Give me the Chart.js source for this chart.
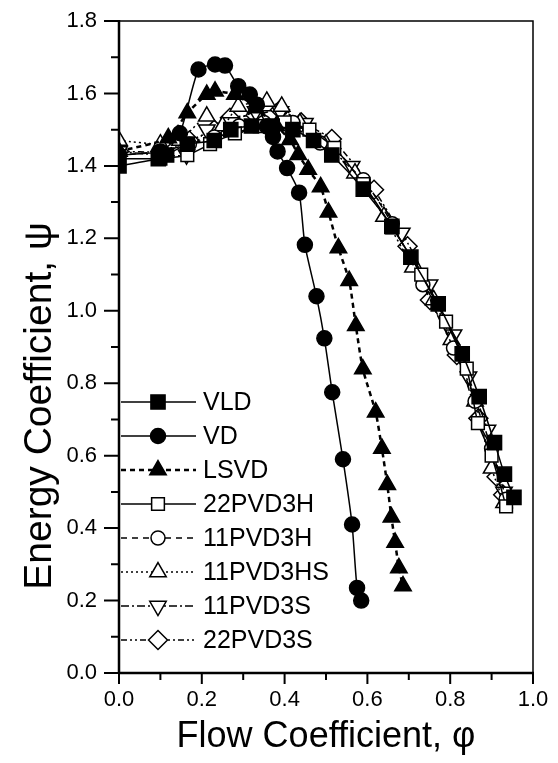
<!DOCTYPE html>
<html><head><meta charset="utf-8">
<script src="https://cdn.jsdelivr.net/npm/chart.js@4/dist/chart.umd.min.js"></script>
<style>html,body{margin:0;padding:0;background:#fff}#c{display:block}</style>
</head><body>
<canvas id="c" width="558" height="763"></canvas>
<script>
// ---- data ----
const seriesNames = ["VLD","VD","LSVD","22PVD3H","11PVD3H","11PVD3HS","11PVD3S","22PVD3S"];
const phiVLD = [0,0.095,0.115,0.165,0.23,0.27,0.32,0.37,0.42,0.47,0.514,0.59,0.659,0.705,0.771,0.829,0.87,0.907,0.931,0.954];
const psiVLD = [1.40,1.42,1.43,1.46,1.47,1.50,1.51,1.51,1.50,1.47,1.43,1.336,1.233,1.148,1.019,0.881,0.763,0.636,0.549,0.485];
const phiVD = [0,0.10,0.147,0.192,0.232,0.256,0.288,0.316,0.333,0.357,0.372,0.383,0.406,0.435,0.449,0.477,0.496,0.515,0.541,0.563,0.575,0.585];
const psiVD = [1.43,1.44,1.49,1.666,1.68,1.677,1.62,1.597,1.569,1.509,1.48,1.44,1.394,1.326,1.182,1.04,0.924,0.775,0.59,0.41,0.235,0.20];
const phiLSVD = [0,0.119,0.165,0.212,0.232,0.28,0.33,0.38,0.413,0.433,0.457,0.487,0.506,0.530,0.556,0.572,0.589,0.62,0.635,0.648,0.658,0.667,0.676,0.686];
const psiLSVD = [1.44,1.477,1.546,1.597,1.606,1.597,1.56,1.51,1.472,1.431,1.39,1.342,1.272,1.173,1.083,0.959,0.839,0.72,0.62,0.52,0.43,0.36,0.29,0.24];
const phi22H = [0,0.10,0.165,0.22,0.28,0.34,0.40,0.46,0.52,0.59,0.66,0.73,0.79,0.84,0.867,0.90,0.935];
const psi22H = [1.42,1.42,1.43,1.46,1.49,1.51,1.52,1.50,1.45,1.35,1.23,1.10,0.97,0.84,0.69,0.60,0.46];
const phi11H = [0,0.10,0.17,0.23,0.29,0.35,0.42,0.486,0.59,0.66,0.734,0.808,0.86,0.90,0.935];
const psi11H = [1.43,1.44,1.46,1.48,1.51,1.52,1.52,1.463,1.362,1.24,1.072,0.897,0.75,0.62,0.48];
const phi11HS = [0,0.10,0.147,0.212,0.25,0.288,0.357,0.393,0.437,0.50,0.57,0.64,0.71,0.76,0.803,0.86,0.90,0.93];
const psi11HS = [1.47,1.46,1.47,1.537,1.51,1.564,1.578,1.564,1.518,1.46,1.38,1.26,1.12,1.03,0.92,0.75,0.565,0.47];
const phi11S = [0,0.10,0.163,0.212,0.27,0.33,0.39,0.449,0.562,0.683,0.75,0.808,0.844,0.89,0.93];
const psi11S = [1.44,1.43,1.431,1.50,1.52,1.55,1.55,1.518,1.399,1.215,1.072,0.934,0.818,0.671,0.50];
const phi22S = [0,0.10,0.17,0.23,0.268,0.33,0.389,0.44,0.514,0.616,0.697,0.751,0.816,0.868,0.912,0.928];
const psi22S = [1.44,1.44,1.47,1.50,1.533,1.54,1.555,1.52,1.474,1.334,1.178,1.03,0.878,0.703,0.542,0.492];
const xTickLabels = ["0.0","0.2","0.4","0.6","0.8","1.0"];
const yTickLabels = ["0.0","0.2","0.4","0.6","0.8","1.0","1.2","1.4","1.6","1.8"];
const xTitle = "Flow Coefficient, \u03C6";
const yTitle = "Energy Coefficient, \u03C8";

const pts = (xs, ys) => xs.map((x, i) => ({x: x, y: ys[i]}));
const FONT = "'Liberation Sans', Arial, sans-serif";

const styles = [
  {pointStyle:'rect', radius:10, fill:true, dash:[], rot:0, lw:1.5},
  {pointStyle:'circle', radius:7.5, fill:true, dash:[], rot:0, lw:1.5},
  {pointStyle:'triangle', radius:9.5, fill:true, dash:[5,4], rot:0, lw:2.5},
  {pointStyle:'rect', radius:9, fill:false, dash:[], rot:0, lw:1.5},
  {pointStyle:'circle', radius:7, fill:false, dash:[6,5], rot:0, lw:1.5},
  {pointStyle:'triangle', radius:9.5, fill:false, dash:[2,3], rot:0, lw:1.5},
  {pointStyle:'triangle', radius:9.5, fill:false, dash:[8,3,2,3], rot:180, lw:1.5},
  {pointStyle:'rectRot', radius:9.5, fill:false, dash:[6,3,2,3,2,3], rot:0, lw:1.5}
];
const dataArrays = [
  pts(phiVLD, psiVLD), pts(phiVD, psiVD), pts(phiLSVD, psiLSVD), pts(phi22H, psi22H),
  pts(phi11H, psi11H), pts(phi11HS, psi11HS), pts(phi11S, psi11S), pts(phi22S, psi22S)
];

const datasets = seriesNames.map((name, i) => ({
  label: name,
  data: dataArrays[i],
  borderColor: '#000',
  backgroundColor: styles[i].fill ? '#000' : '#fff',
  pointBackgroundColor: styles[i].fill ? '#000' : '#fff',
  pointBorderColor: '#000',
  pointBorderWidth: 1.5,
  pointStyle: styles[i].pointStyle,
  pointRotation: styles[i].rot,
  pointRadius: styles[i].radius,
  borderWidth: styles[i].lw,
  borderDash: styles[i].dash,
  tension: 0.2,
  showLine: true,
  order: styles[i].fill ? 0 : 1
}));

const L = 119, R = 533, T = 21, B = 673;

const framePlugin = {
  id: 'frame',
  beforeDraw(chart) {
    const ctx = chart.ctx;
    ctx.save(); ctx.fillStyle = '#fff'; ctx.fillRect(0, 0, chart.width, chart.height); ctx.restore();
  },
  afterDraw(chart) {
    const ctx = chart.ctx, a = chart.chartArea;
    const xs = chart.scales.x, ys = chart.scales.y;
    ctx.save();
    ctx.strokeStyle = '#000';
    ctx.lineWidth = 1.5;
    ctx.beginPath();
    ctx.moveTo(a.left, a.top); ctx.lineTo(a.right, a.top); ctx.lineTo(a.right, a.bottom);
    ctx.stroke();
    ctx.lineWidth = 2.5;
    ctx.beginPath();
    ctx.moveTo(a.left, a.top - 1); ctx.lineTo(a.left, a.bottom + 1);
    ctx.moveTo(a.left - 1, a.bottom); ctx.lineTo(a.right + 1, a.bottom);
    ctx.stroke();
    ctx.lineWidth = 2;
    ctx.beginPath();
    for (let k = 0; k <= 10; k++) {
      const px = xs.getPixelForValue(k / 10);
      ctx.moveTo(px, a.bottom); ctx.lineTo(px, a.bottom + (k % 2 === 0 ? 11 : 7));
    }
    for (let k = 0; k <= 18; k++) {
      const py = ys.getPixelForValue(k / 10);
      ctx.moveTo(a.left, py); ctx.lineTo(a.left - (k % 2 === 0 ? 15 : 8), py);
    }
    ctx.stroke();
    // axis titles
    ctx.fillStyle = '#000';
    ctx.textAlign = 'center';
    ctx.textBaseline = 'middle';
    ctx.font = '36px ' + FONT;
    ctx.fillText(xTitle, 326, 737);
    ctx.save();
    ctx.translate(40, 406);
    ctx.rotate(-Math.PI / 2);
    ctx.font = '39px ' + FONT;
    ctx.fillText(yTitle, 0, 0);
    ctx.restore();
    // legend
    const y0 = 402, dy = 34;
    chart.data.datasets.forEach((ds, i) => {
      const y = y0 + i * dy;
      ctx.save();
      ctx.strokeStyle = '#000';
      ctx.lineWidth = ds.borderWidth;
      ctx.setLineDash(ds.borderDash);
      ctx.beginPath(); ctx.moveTo(121, y); ctx.lineTo(196, y); ctx.stroke();
      ctx.setLineDash([]);
      ctx.fillStyle = ds.pointBackgroundColor;
      ctx.strokeStyle = '#000';
      ctx.lineWidth = 1.5;
      Chart.helpers.drawPoint(ctx, {pointStyle: ds.pointStyle, radius: ds.pointRadius, rotation: ds.pointRotation, borderWidth: 1.5}, 158, y);
      ctx.fillStyle = '#000';
      ctx.font = '25px ' + FONT;
      ctx.textBaseline = 'middle';
      ctx.textAlign = 'left';
      ctx.fillText(ds.label, 203, y + 1);
      ctx.restore();
    });
    ctx.restore();
  }
};

new Chart(document.getElementById('c'), {
  type: 'scatter',
  data: { datasets: datasets },
  plugins: [framePlugin],
  options: {
    responsive: false,
    animation: false,
    events: [],
    layout: { padding: { left: 0, top: T, right: 558 - R, bottom: 0 } },
    plugins: { legend: { display: false }, tooltip: { enabled: false } },
    scales: {
      x: {
        type: 'linear', min: 0, max: 1,
        afterFit(s) { s.height = 763 - B; },
        grid: { display: false, drawTicks: true, tickLength: 14 },
        border: { display: false },
        ticks: {
          stepSize: 0.2, padding: 0, color: '#000',
          font: { family: FONT, size: 22 },
          callback: (v) => xTickLabels[Math.round(v * 5)]
        }
      },
      y: {
        type: 'linear', min: 0, max: 1.8,
        afterFit(s) { s.width = L; },
        grid: { display: false, drawTicks: true, tickLength: 22 },
        border: { display: false },
        ticks: {
          stepSize: 0.2, padding: 0, color: '#000',
          font: { family: FONT, size: 22 },
          callback: (v) => yTickLabels[Math.round(v * 5)]
        }
      }
    }
  }
});
</script>
</body></html>
